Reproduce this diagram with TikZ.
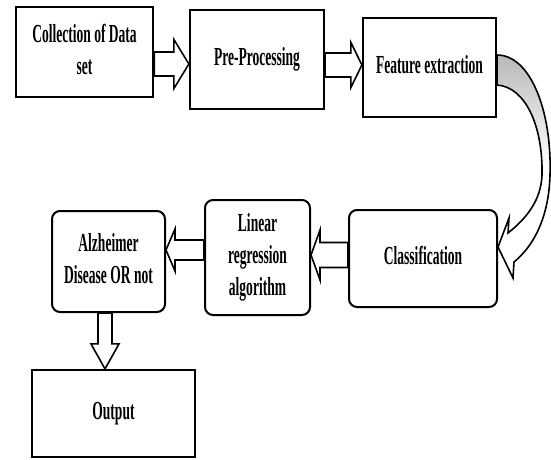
\documentclass[tikz,border=0pt]{standalone}
\usepackage{fontspec}
\setmainfont{Liberation Serif}
\usepackage{graphicx}
\usetikzlibrary{calc}
\newcommand\sq[1]{\scalebox{0.52}[1]{\begin{tabular}{@{}c@{}}#1\end{tabular}}}
% right-pointing block arrow: from, to, y-centre, shaft half width, head half width, head length
\newcommand\rblk[6]{\draw[blk] (#1.east |- 0,#3-#4) -- ($(#2.west |- 0,#3-#4)+(-#6,0)$) -- ($(#2.west |- 0,#3-#5)+(-#6,0)$) -- (#2.west |- 0,#3) -- ($(#2.west |- 0,#3+#5)+(-#6,0)$) -- ($(#2.west |- 0,#3+#4)+(-#6,0)$) -- (#1.east |- 0,#3+#4) -- cycle;}
% left-pointing block arrow
\newcommand\lblk[6]{\draw[blk] (#1.west |- 0,#3-#4) -- ($(#2.east |- 0,#3-#4)+(#6,0)$) -- ($(#2.east |- 0,#3-#5)+(#6,0)$) -- (#2.east |- 0,#3) -- ($(#2.east |- 0,#3+#5)+(#6,0)$) -- ($(#2.east |- 0,#3+#4)+(#6,0)$) -- (#1.west |- 0,#3+#4) -- cycle;}
% down-pointing block arrow: from, to, x-centre, ...
\newcommand\dblk[6]{\draw[blk] (#1.south -| #3-#4,0) -- ($(#2.north -| #3-#4,0)+(0,-#6)$) -- ($(#2.north -| #3-#5,0)+(0,-#6)$) -- (#2.north -| #3,0) -- ($(#2.north -| #3+#5,0)+(0,-#6)$) -- ($(#2.north -| #3+#4,0)+(0,-#6)$) -- (#1.south -| #3+#4,0) -- cycle;}
\begin{document}
\begin{tikzpicture}[x=1pt,y=-1pt,
  txt/.style={inner sep=0pt, align=center, font=\fontsize{26}{32}\selectfont\bfseries},
  sqbox/.style={txt, draw, line width=2.2pt, fill=white},
  rbox/.style={txt, draw, line width=2pt, rounded corners=8pt, fill=white},
  blk/.style={draw, fill=white, line width=1.6pt, line join=miter}]
\useasboundingbox (0,0) rectangle (551,459);
\fill[white] (0,0) rectangle (551,459);
\node[sqbox, line width=2.8pt, minimum width=137pt, minimum height=90pt] (b1) at (84.5,52) {\sq{Collection of Data\\set}};
\node[sqbox, minimum width=134pt, minimum height=99pt] (b2) at (257,59.5) {\sq{Pre-Processing}};
\node[sqbox, minimum width=133pt, minimum height=99pt] (b3) at (429.5,67.5) {\sq{Feature extraction}};
\node[rbox, minimum width=148pt, minimum height=97pt] (c) at (423,258.5) {\sq{Classification}};
\node[rbox, minimum width=105pt, minimum height=115pt] (lr) at (257.5,257.5) {\sq{Linear\\regression\\algorithm}};
\node[rbox, minimum width=113pt, minimum height=101pt] (ad) at (108.5,261.5) {\sq{Alzheimer\\Disease OR not}};
\node[sqbox, minimum width=163pt, minimum height=87pt] (out) at (113.5,413.5) {\sq{Output}};
\rblk{b1}{b2}{64}{12}{24.5}{15}
\rblk{b2}{b3}{65}{12}{22.5}{11}
\lblk{c}{lr}{255}{12.5}{25}{9}
\lblk{lr}{ad}{250}{10}{21}{9}
\dblk{ad}{out}{105}{7}{14}{25}
\draw[line width=1.6pt, line join=miter, top color=gray!55, bottom color=white, middle color=white]
  (b3.east |- 0,55) .. controls (530,55) and (552,110) .. (550,175)
  .. controls (549,215) and (535,245) .. (514,262) -- (513,278) -- (c.east |- 0,247)
  -- (509,218) -- (508,233) .. controls (527,218) and (541,200) .. (542,175)
  .. controls (543,125) and (525,87) .. (b3.east |- 0,85) -- cycle;
\end{tikzpicture}
\end{document}
